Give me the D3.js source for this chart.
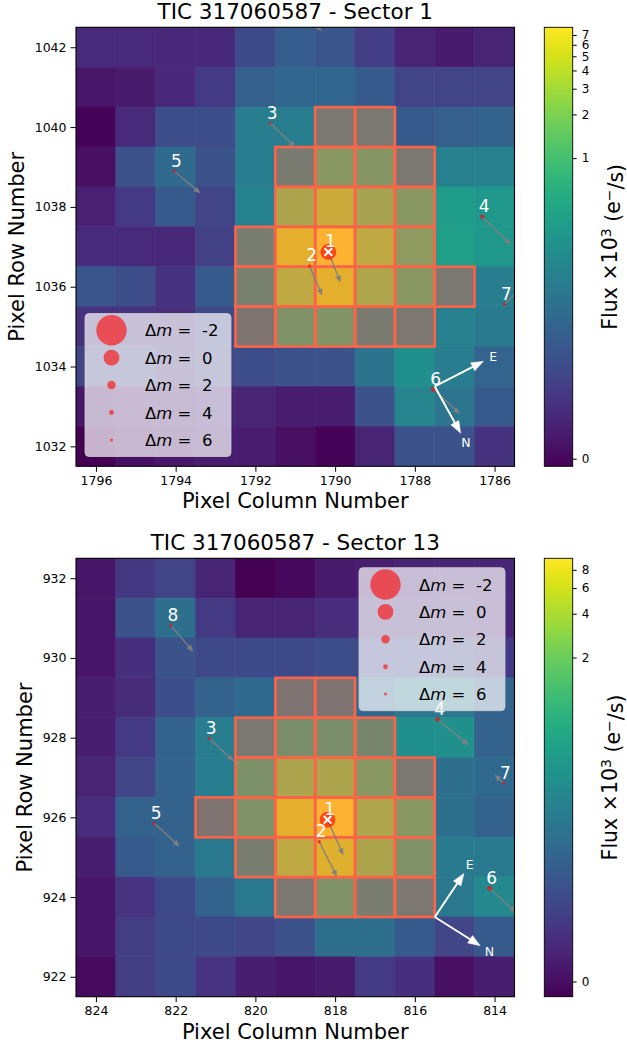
<!DOCTYPE html>
<html><head><meta charset="utf-8">
<script src="https://cdn.jsdelivr.net/npm/d3@7/dist/d3.min.js"></script>
<style>
html,body{margin:0;padding:0;background:#fff;}
svg{display:block;}
text{font-family:"DejaVu Sans",sans-serif;}
</style></head><body>
<script>
// ---------------- Sector 1 ----------------
const s1Title = "TIC 317060587 - Sector 1";
const s1Columns = [1796,1795,1794,1793,1792,1791,1790,1789,1788,1787,1786];
const s1Rows = [1042,1041,1040,1039,1038,1037,1036,1035,1034,1033,1032];
// median flux ×10^3 e-/s ; rows 1042 → 1032, columns 1796 → 1786
const s1Flux = [
 [0.009,0.009,0.008,0.008,0.027,0.050,0.039,0.019,0.007,0.004,0.007],
 [0.003,0.004,0.008,0.017,0.054,0.068,0.068,0.046,0.023,0.023,0.023],
 [-0.0004,0.009,0.030,0.030,0.135,0.135,0.181,0.181,0.046,0.054,0.058],
 [0.0015,0.036,0.074,0.036,0.135,0.209,0.859,0.747,0.181,0.145,0.145],
 [0.006,0.017,0.046,0.023,0.156,1.85,3.21,1.72,0.859,0.344,0.299],
 [0.009,0.009,0.008,0.021,0.241,4.87,7.90,2.61,0.987,0.369,0.299],
 [0.039,0.030,0.013,0.046,0.278,2.61,4.87,1.98,0.859,0.181,0.135],
 [0.013,0.013,0.011,0.027,0.135,0.650,0.697,0.209,0.168,0.145,0.125],
 [0.023,0.023,0.013,0.023,0.030,0.036,0.036,0.100,0.241,0.135,0.063],
 [0.003,0.004,0.005,0.007,0.007,0.005,0.005,0.036,0.168,0.108,0.046],
 [-0.001,0.0015,0.003,0.005,0.005,0.0015,-0.0004,0.007,0.036,0.036,0.013]
];
const s1Aperture = [
 [0,0,0,0,0,0,0,0,0,0,0],
 [0,0,0,0,0,0,0,0,0,0,0],
 [0,0,0,0,0,0,1,1,0,0,0],
 [0,0,0,0,0,1,1,1,1,0,0],
 [0,0,0,0,0,1,1,1,1,0,0],
 [0,0,0,0,1,1,1,1,1,0,0],
 [0,0,0,0,1,1,1,1,1,1,0],
 [0,0,0,0,1,1,1,1,1,0,0],
 [0,0,0,0,0,0,0,0,0,0,0],
 [0,0,0,0,0,0,0,0,0,0,0],
 [0,0,0,0,0,0,0,0,0,0,0]
];
const s1ColTicks = [1796,1794,1792,1790,1788,1786];
const s1RowTicks = [1032,1034,1036,1038,1040,1042];
const s1CbarTicks = [0,1,2,3,4,5,6,7];
const s1StarId  = [1,2,3,4,5,6,7,8];
const s1StarCol = [1790.17,1790.64,1791.63,1786.31,1794.03,1787.53,1785.75,1790.90];
const s1StarRow = [1036.87,1036.52,1040.09,1037.75,1038.89,1033.43,1035.56,1043.05];
const s1PmCol   = [-0.30,-0.31,-0.63,-0.71,-0.64,-0.65,-0.50,-0.55];
const s1PmRow   = [-0.75,-0.73,-0.59,-0.69,-0.54,-0.61,0.50,-0.64];
const s1Compass = {origin:[1787.5,1033.5], E:[-1.22,0.63], N:[-0.65,-1.17]};

// ---------------- Sector 13 ----------------
const s13Title = "TIC 317060587 - Sector 13";
const s13Columns = [824,823,822,821,820,819,818,817,816,815,814];
const s13Rows = [932,931,930,929,928,927,926,925,924,923,922];
const s13Flux = [
 [0.002,0.017,0.026,0.007,-0.0026,-0.001,0.003,0.005,0.007,0.008,0.008],
 [0.002,0.042,0.103,0.019,0.007,0.007,0.011,0.011,0.010,0.010,0.008],
 [0.002,0.013,0.042,0.032,0.032,0.032,0.035,0.032,0.032,0.030,0.019],
 [0.005,0.010,0.038,0.070,0.088,0.163,0.163,0.082,0.140,0.140,0.070],
 [0.005,0.019,0.070,0.163,0.218,0.594,0.594,0.417,0.291,0.291,0.070],
 [0.007,0.029,0.070,0.163,0.684,2.24,2.24,1.04,0.218,0.103,0.088],
 [0.011,0.070,0.070,0.163,0.788,5.91,9.60,2.40,1.04,0.103,0.070],
 [0.005,0.054,0.070,0.140,0.291,3.17,5.52,2.24,0.788,0.151,0.151],
 [0.002,0.015,0.032,0.070,0.140,0.218,0.788,0.291,0.203,0.140,0.235],
 [0.002,0.021,0.032,0.032,0.029,0.042,0.103,0.103,0.054,0.029,0.054],
 [-0.0004,0.021,0.032,0.015,0.005,0.002,0.003,0.019,0.013,0.0005,0.005]
];
const s13Aperture = [
 [0,0,0,0,0,0,0,0,0,0,0],
 [0,0,0,0,0,0,0,0,0,0,0],
 [0,0,0,0,0,0,0,0,0,0,0],
 [0,0,0,0,0,1,1,0,0,0,0],
 [0,0,0,0,1,1,1,1,0,0,0],
 [0,0,0,0,1,1,1,1,1,0,0],
 [0,0,0,1,1,1,1,1,1,0,0],
 [0,0,0,0,1,1,1,1,1,0,0],
 [0,0,0,0,0,1,1,1,1,0,0],
 [0,0,0,0,0,0,0,0,0,0,0],
 [0,0,0,0,0,0,0,0,0,0,0]
];
const s13ColTicks = [824,822,820,818,816,814];
const s13RowTicks = [922,924,926,928,930,932];
const s13CbarTicks = [0,2,4,6,8];
const s13StarId  = [1,2,3,4,5,6,7,8];
const s13StarCol = [818.19,818.40,821.16,815.43,822.54,814.12,813.78,822.12];
const s13StarRow = [925.94,925.39,927.98,928.46,925.85,924.22,926.86,930.81];
const s13PmCol   = [-0.39,-0.44,-0.61,-0.77,-0.63,-0.65,0.21,-0.55];
const s13PmRow   = [-0.88,-0.87,-0.56,-0.64,-0.57,-0.60,0.20,-0.64];
const s13Compass = {origin:[815.5,923.5], E:[-0.73,1.09], N:[-1.14,-0.72]};

// stellar magnitude differences (same Gaia sources in both sectors)
const starDm = [0,5.2,5.8,4.0,5.6,3.8,5.5,5.5];
const legendDm = [-2,0,2,4,6];

// ---------------- drawing ----------------
const svg = d3.select("body").append("svg").attr("width",627).attr("height",1051);
const defs = svg.append("defs");
const grad = defs.append("linearGradient").attr("id","viridisGrad")
  .attr("x1",0).attr("y1",1).attr("x2",0).attr("y2",0);
d3.range(0,1.0001,0.02).forEach(t=>grad.append("stop").attr("offset",t).attr("stop-color",d3.interpolateViridis(t)));

const TOMATO = "#ff6347";
const starR = dm => 7.3*Math.pow(2,-dm/2)+0.6;

function drawArrow(g,x0,y0,x1,y1,color,lw,hl,hw){
  const dx=x1-x0, dy=y1-y0, len=Math.hypot(dx,dy); if(len<1e-6) return;
  const ux=dx/len, uy=dy/len, bx=x1-ux*hl, by=y1-uy*hl;
  g.append("line").attr("x1",x0).attr("y1",y0).attr("x2",bx).attr("y2",by)
    .attr("stroke",color).attr("stroke-width",lw);
  g.append("path").attr("d",`M${x1},${y1}L${bx-uy*hw/2},${by+ux*hw/2}L${bx+uy*hw/2},${by-ux*hw/2}Z`)
    .attr("fill",color).attr("stroke",color).attr("stroke-width",0.5);
}

function drawPanel(P){
  const L=76, R=514.5;
  const x = d3.scaleLinear().domain([d3.max(P.columns)+0.5, d3.min(P.columns)-0.5]).range([L,R]);
  const y = d3.scaleLinear().domain([d3.min(P.rows)-0.5, d3.max(P.rows)+0.5]).range([P.bottom,P.top]);
  const vals = P.flux.flat();
  const vmin = d3.min(vals), vmax = d3.max(vals);
  const norm = v => { let t=(v-vmin)/(vmax-vmin); t=Math.max(0,Math.min(1,t)); return Math.log(1000*t+1)/Math.log(1001); };
  const color = v => d3.interpolateViridis(norm(v));

  const g = svg.append("g");
  defs.append("clipPath").attr("id","clip"+P.id).append("rect")
    .attr("x",L).attr("y",P.top).attr("width",R-L).attr("height",P.bottom-P.top);
  const plot = g.append("g").attr("clip-path",`url(#clip${P.id})`);

  const cells=[];
  P.rows.forEach((row,i)=>P.columns.forEach((col,j)=>cells.push({row,col,v:P.flux[i][j],ap:P.aperture[i][j]})));
  const cx0=d=>x(d.col+0.5), cw=d=>x(d.col-0.5)-x(d.col+0.5);
  const cy0=d=>y(d.row+0.5), ch=d=>y(d.row-0.5)-y(d.row+0.5);
  plot.selectAll("rect.cell").data(cells).join("rect").attr("class","cell")
    .attr("x",cx0).attr("y",cy0).attr("width",cw).attr("height",ch)
    .attr("fill",d=>color(d.v)).attr("stroke",d=>color(d.v)).attr("stroke-width",0.6);
  const ap = cells.filter(d=>d.ap);
  plot.selectAll("rect.apf").data(ap).join("rect").attr("class","apf")
    .attr("x",cx0).attr("y",cy0).attr("width",cw).attr("height",ch)
    .attr("fill",TOMATO).attr("fill-opacity",0.4);
  plot.selectAll("rect.ape").data(ap).join("rect").attr("class","ape")
    .attr("x",cx0).attr("y",cy0).attr("width",cw).attr("height",ch)
    .attr("fill","none").attr("stroke",TOMATO).attr("stroke-width",2.6);

  const stars = P.starId.map((id,k)=>({id,col:P.starCol[k],row:P.starRow[k],dm:starDm[k],pc:P.pmCol[k],pr:P.pmRow[k]}));
  const ag = plot.append("g");
  stars.forEach(s=>drawArrow(ag,x(s.col),y(s.row),x(s.col+s.pc),y(s.row+s.pr),"#808080",1.3,6,5));
  plot.selectAll("circle.star").data(stars).join("circle").attr("class","star")
    .attr("cx",d=>x(d.col)).attr("cy",d=>y(d.row)).attr("r",d=>starR(d.dm))
    .attr("fill","#ff0000").attr("fill-opacity",0.6);
  // target marker
  const t = stars[0], tx=x(t.col), ty=y(t.row), k=3.8;
  plot.append("path").attr("d",`M${tx-k},${ty-k}L${tx+k},${ty+k}M${tx-k},${ty+k}L${tx+k},${ty-k}`)
    .attr("stroke","white").attr("stroke-width",2);
  const [rmin,rmax] = d3.extent(P.rows);
  const visible = stars.filter(s=>s.row>=rmin-0.5 && s.row<=rmax+0.5);
  plot.selectAll("text.slab").data(visible).join("text").attr("class","slab")
    .attr("x",d=>x(d.col)+2).attr("y",d=>y(d.row)-4.5)
    .attr("text-anchor","middle").attr("fill","white").attr("font-size","17px").text(d=>d.id);

  // compass
  const o=P.compass.origin, ox=x(o[0]), oy=y(o[1]);
  [["E",P.compass.E],["N",P.compass.N]].forEach(([lab,d])=>{
    drawArrow(plot,ox,oy,x(o[0]+d[0]),y(o[1]+d[1]),"white",2,12,9);
    plot.append("text").attr("x",x(o[0]+d[0]*1.2)).attr("y",y(o[1]+d[1]*1.2))
      .attr("text-anchor","middle").attr("dominant-baseline","central")
      .attr("fill","white").attr("font-size","12.5px").text(lab);
  });

  // frame
  g.append("rect").attr("x",L).attr("y",P.top).attr("width",R-L).attr("height",P.bottom-P.top)
    .attr("fill","none").attr("stroke","black").attr("stroke-width",1.1);

  // axes
  const xa = g.append("g").attr("transform",`translate(0,${P.bottom})`)
    .call(d3.axisBottom(x).tickValues(P.colTicks).tickFormat(d3.format("d")).tickSize(5.5).tickPadding(4));
  const ya = g.append("g").attr("transform",`translate(${L},0)`)
    .call(d3.axisLeft(y).tickValues(P.rowTicks).tickFormat(d3.format("d")).tickSize(5.5).tickPadding(4));
  [xa,ya].forEach(a=>{a.select(".domain").remove();
    a.selectAll("text").attr("font-size","12.5px").attr("font-family",'"DejaVu Sans",sans-serif').attr("fill","black");
    a.selectAll("line").attr("stroke","black").attr("stroke-width",1);});

  const mid=(L+R)/2;
  g.append("text").attr("x",mid).attr("y",P.top-8).attr("text-anchor","middle")
    .attr("font-size","21.5px").text(P.title);
  g.append("text").attr("x",mid).attr("y",P.bottom+42).attr("text-anchor","middle")
    .attr("font-size","21px").text("Pixel Column Number");
  g.append("text").attr("transform",`translate(${P.ylabX},${(P.top+P.bottom)/2}) rotate(-90)`)
    .attr("text-anchor","middle").attr("font-size","21px").text("Pixel Row Number");

  // legend
  const lg = g.append("g");
  lg.append("rect").attr("x",P.legend[0]).attr("y",P.legend[1]).attr("width",146).attr("height",143)
    .attr("rx",4).attr("fill","white").attr("fill-opacity",0.7).attr("stroke","#cccccc").attr("stroke-opacity",0.8);
  legendDm.forEach((dm,i)=>{
    const cy = P.legend[1]+16.8+i*27.4;
    lg.append("circle").attr("cx",P.legend[0]+26.5).attr("cy",cy).attr("r",starR(dm))
      .attr("fill","#ff0000").attr("fill-opacity",0.6);
    const tx = lg.append("text").attr("x",P.legend[0]+60).attr("y",cy).attr("dominant-baseline","central")
      .attr("font-size","16.5px").style("white-space","pre");
    tx.append("tspan").text("Δ");
    tx.append("tspan").attr("font-style","italic").text("m");
    tx.append("tspan").text(" =  "+dm);
  });

  // colorbar
  const cbL=544.3, cbR=572.7;
  g.append("rect").attr("x",cbL).attr("y",P.top).attr("width",cbR-cbL).attr("height",P.bottom-P.top)
    .attr("fill","url(#viridisGrad)").attr("stroke","black").attr("stroke-width",0.9);
  const cbScale = d3.scaleLinear().domain([0,1]).range([P.bottom,P.top]);
  const ca = g.append("g").attr("transform",`translate(${cbR},0)`)
    .call(d3.axisRight(cbScale).tickValues(P.cbarTicks.map(norm)).tickFormat((d,i)=>P.cbarTicks[i]).tickSize(4).tickPadding(5));
  ca.select(".domain").remove();
  ca.selectAll("text").attr("font-size","12px").attr("font-family",'"DejaVu Sans",sans-serif').attr("fill","black");
  ca.selectAll("line").attr("stroke","black");
  const cl = g.append("text").attr("transform",`translate(617,${(P.top+P.bottom)/2}) rotate(-90)`)
    .attr("text-anchor","middle").attr("font-size","20.5px");
  cl.append("tspan").text("Flux ×10");
  cl.append("tspan").attr("font-size","14px").attr("dy","-0.45em").text("3");
  cl.append("tspan").attr("dy","0.45em").text(" (e");
  cl.append("tspan").attr("font-size","14px").attr("dy","-0.45em").text("−");
  cl.append("tspan").attr("dy","0.45em").text("/s)");
}

drawPanel({id:1,title:s1Title,columns:s1Columns,rows:s1Rows,flux:s1Flux,aperture:s1Aperture,
  colTicks:s1ColTicks,rowTicks:s1RowTicks,cbarTicks:s1CbarTicks,
  starId:s1StarId,starCol:s1StarCol,starRow:s1StarRow,pmCol:s1PmCol,pmRow:s1PmRow,compass:s1Compass,
  top:27.3,bottom:466.3,ylabX:23.5,legend:[85,313.5]});
drawPanel({id:13,title:s13Title,columns:s13Columns,rows:s13Rows,flux:s13Flux,aperture:s13Aperture,
  colTicks:s13ColTicks,rowTicks:s13RowTicks,cbarTicks:s13CbarTicks,
  starId:s13StarId,starCol:s13StarCol,starRow:s13StarRow,pmCol:s13PmCol,pmRow:s13PmRow,compass:s13Compass,
  top:558.3,bottom:996.7,ylabX:31.5,legend:[359,567.7]});
</script>
</body></html>
